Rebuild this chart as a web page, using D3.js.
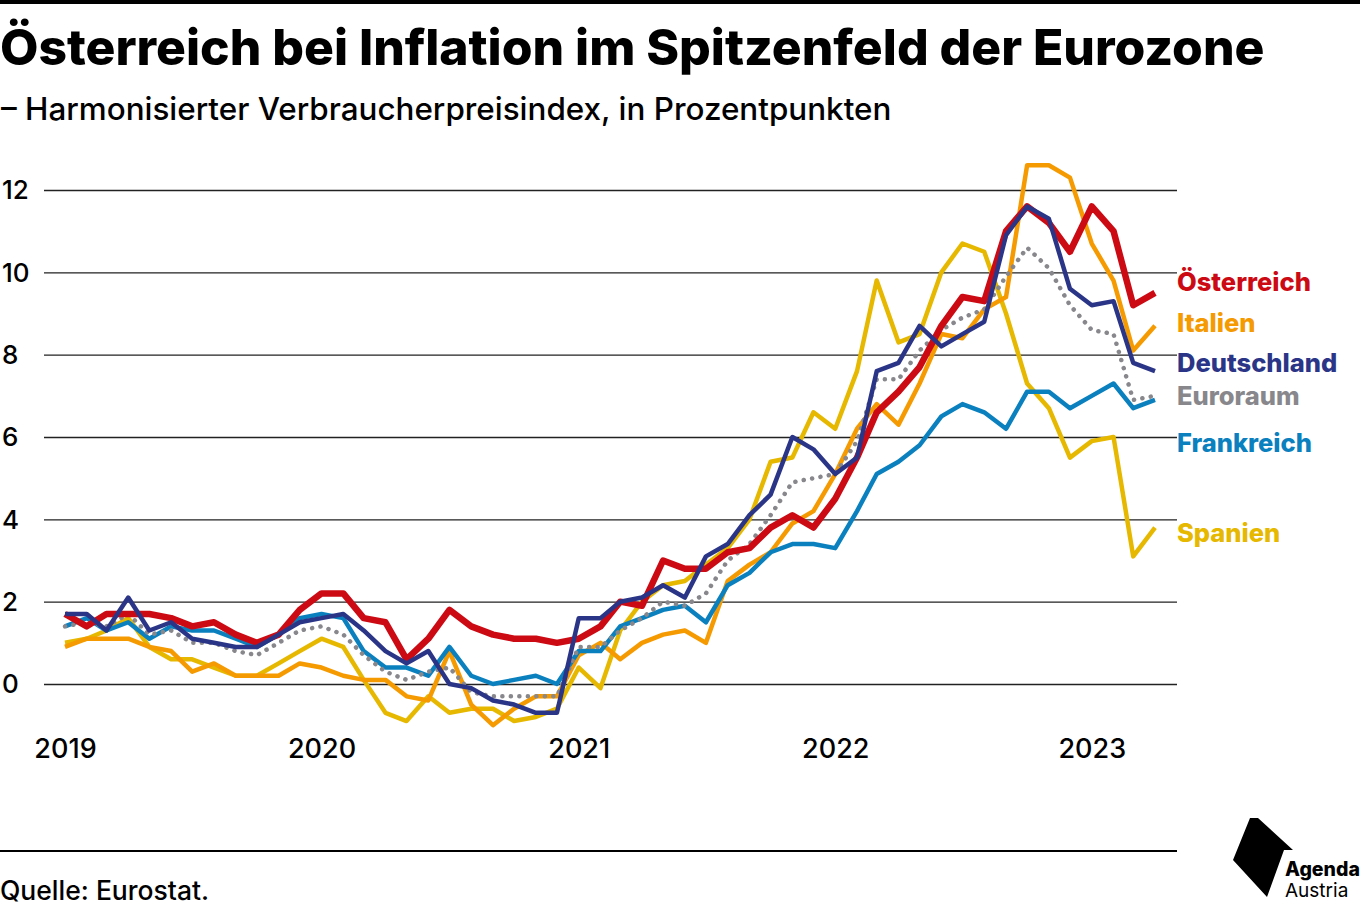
<!DOCTYPE html>
<html lang="de">
<head>
<meta charset="utf-8">
<script src="https://cdn.jsdelivr.net/npm/d3@7"></script>
<style>
  html, body { margin: 0; padding: 0; background: #fff; }
  svg { display: block; font-family: Inter, sans-serif; }
</style>
</head>
<body>
<svg id="chart"></svg>
<script>
const yearTicks = [2019, 2020, 2021, 2022, 2023];
const valueTicks = [0, 2, 4, 6, 8, 10, 12];

// monthly, Jan 2019 to Apr 2023
const oesterreich = [1.7,1.4,1.7,1.7,1.7,1.6,1.4,1.5,1.2,1.0,1.2,1.8, 2.2,2.2,1.6,1.5,0.6,1.1,1.8,1.4,1.2,1.1,1.1,1.0, 1.1,1.4,2.0,1.9,3.0,2.8,2.8,3.2,3.3,3.8,4.1,3.8, 4.5,5.5,6.6,7.1,7.7,8.7,9.4,9.3,11.0,11.6,11.2,10.5, 11.6,11.0,9.2,9.5];
const italien = [0.9,1.1,1.1,1.1,0.9,0.8,0.3,0.5,0.2,0.2,0.2,0.5, 0.4,0.2,0.1,0.1,-0.3,-0.4,0.8,-0.5,-1.0,-0.6,-0.3,-0.3, 0.7,1.0,0.6,1.0,1.2,1.3,1.0,2.5,2.9,3.2,3.9,4.2, 5.1,6.2,6.8,6.3,7.3,8.5,8.4,9.1,9.4,12.6,12.6,12.3, 10.7,9.8,8.1,8.7];
const deutschland = [1.7,1.7,1.3,2.1,1.3,1.5,1.1,1.0,0.9,0.9,1.2,1.5, 1.6,1.7,1.3,0.8,0.5,0.8,0.0,-0.1,-0.4,-0.5,-0.7,-0.7, 1.6,1.6,2.0,2.1,2.4,2.1,3.1,3.4,4.1,4.6,6.0,5.7, 5.1,5.5,7.6,7.8,8.7,8.2,8.5,8.8,10.9,11.6,11.3,9.6, 9.2,9.3,7.8,7.6];
const euroraum = [1.4,1.5,1.4,1.7,1.2,1.3,1.0,1.0,0.8,0.7,1.0,1.3, 1.4,1.2,0.7,0.3,0.1,0.3,0.4,-0.2,-0.3,-0.3,-0.3,-0.3, 0.9,0.9,1.3,1.6,2.0,1.9,2.2,3.0,3.4,4.1,4.9,5.0, 5.1,5.9,7.4,7.4,8.1,8.6,8.9,9.1,9.9,10.6,10.1,9.2, 8.6,8.5,6.9,7.0];
const frankreich = [1.4,1.6,1.3,1.5,1.1,1.4,1.3,1.3,1.1,0.9,1.2,1.6, 1.7,1.6,0.8,0.4,0.4,0.2,0.9,0.2,0.0,0.1,0.2,0.0, 0.8,0.8,1.4,1.6,1.8,1.9,1.5,2.4,2.7,3.2,3.4,3.4, 3.3,4.2,5.1,5.4,5.8,6.5,6.8,6.6,6.2,7.1,7.1,6.7, 7.0,7.3,6.7,6.9];
const spanien = [1.0,1.1,1.3,1.6,0.9,0.6,0.6,0.4,0.2,0.2,0.5,0.8, 1.1,0.9,0.1,-0.7,-0.9,-0.3,-0.7,-0.6,-0.6,-0.9,-0.8,-0.6, 0.4,-0.1,1.3,2.0,2.4,2.5,2.9,3.3,4.0,5.4,5.5,6.6, 6.2,7.6,9.8,8.3,8.5,10.0,10.7,10.5,9.0,7.3,6.7,5.5, 5.9,6.0,3.1,3.8];

const months = d3.utcMonth.range(new Date(Date.UTC(2019, 0, 1)), new Date(Date.UTC(2023, 4, 1)));

const width = 1360, height = 906;
const svg = d3.select("#chart").attr("width", width).attr("height", height);

const x = d3.scaleUtc().domain([months[0], months[months.length - 1]]).range([65, 1155]);
const y = d3.scaleLinear().domain([0, 12]).range([684, 190]);

svg.append("rect").attr("width", width).attr("height", 4).attr("fill", "#000");

svg.append("text").attr("x", 0).attr("y", 65)
  .style("font-size", "49.8px").style("font-weight", 800)
  .text("Österreich bei Inflation im Spitzenfeld der Eurozone");
svg.append("text").attr("x", 1).attr("y", 120)
  .style("font-size", "31.4px").style("font-weight", 500)
  .text("– Harmonisierter Verbraucherpreisindex, in Prozentpunkten");

// y axis, labels sit left aligned at the page edge
const yAxis = svg.append("g").attr("transform", "translate(44,0)")
  .call(d3.axisRight(y).tickValues(valueTicks).tickSize(1133).tickFormat(d3.format("d")));
yAxis.select(".domain").remove();
yAxis.selectAll("line").attr("stroke", "#222").attr("stroke-width", 1.4);
yAxis.selectAll("text")
  .attr("x", -42).attr("dy", "0.34em").attr("text-anchor", "start")
  .attr("fill", "#000").style("font-size", "26px").style("font-weight", 500).style("font-family", "Inter, sans-serif");

const xAxis = svg.append("g").attr("transform", "translate(0,758)")
  .call(d3.axisBottom(x)
    .tickValues(yearTicks.map(d => new Date(Date.UTC(d, 0, 1))))
    .tickSize(0).tickFormat(d3.utcFormat("%Y")));
xAxis.select(".domain").remove();
xAxis.selectAll("text")
  .attr("y", 0).attr("dy", 0)
  .attr("fill", "#000").style("font-size", "27px").style("font-weight", 500).style("font-family", "Inter, sans-serif");

const line = d3.line().x((d, i) => x(months[i])).y(d => y(d));

const series = [
  { name: "Spanien", values: spanien, color: "#e6b800", w: 4.5, labelY: 533 },
  { name: "Italien", values: italien, color: "#f59a00", w: 4.5, labelY: 323 },
  { name: "Frankreich", values: frankreich, color: "#0a80bf", w: 4.5, labelY: 443 },
  { name: "Euroraum", values: euroraum, color: "#87878c", w: 4.5, dash: "0.1 8.4", labelY: 396 },
  { name: "Österreich", values: oesterreich, color: "#cc0a14", w: 6.5, labelY: 282 },
  { name: "Deutschland", values: deutschland, color: "#2b3587", w: 4.5, labelY: 363 }
];

svg.append("g").attr("fill", "none")
  .selectAll("path").data(series).join("path")
  .attr("d", d => line(d.values))
  .attr("stroke", d => d.color)
  .attr("stroke-width", d => d.w)
  .attr("stroke-dasharray", d => d.dash || null)
  .attr("stroke-linecap", d => d.dash ? "round" : "butt")
  .attr("stroke-linejoin", "round");

svg.append("g").selectAll("text").data(series).join("text")
  .attr("x", 1177).attr("y", d => d.labelY).attr("dy", "0.35em")
  .attr("fill", d => d.color)
  .style("font-size", "25.5px").style("font-weight", 800)
  .text(d => d.name);

svg.append("line").attr("x1", 0).attr("x2", 1177).attr("y1", 851).attr("y2", 851)
  .attr("stroke", "#000").attr("stroke-width", 2);
svg.append("text").attr("x", 0).attr("y", 900)
  .style("font-size", "26.5px").style("font-weight", 500).text("Quelle: Eurostat.");

// logo
svg.append("path").attr("d", "M1250 818L1258 818L1293 850L1284 850L1267 897L1233 860Z").attr("fill", "#000");
svg.append("text").attr("x", 1285).attr("y", 876)
  .style("font-size", "19.5px").style("font-weight", 800).text("Agenda");
svg.append("text").attr("x", 1285).attr("y", 897)
  .style("font-size", "19px").style("font-weight", 400).text("Austria");
</script>
</body>
</html>
